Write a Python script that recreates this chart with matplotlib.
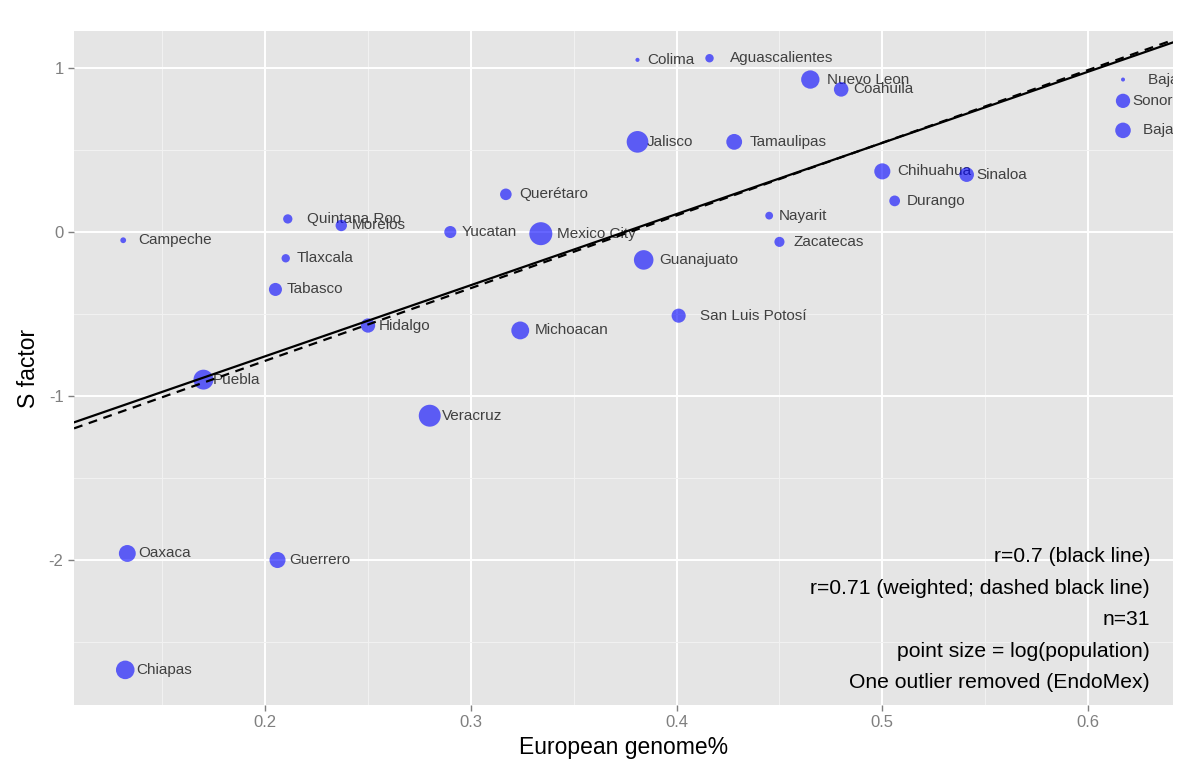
import numpy as np
import matplotlib
matplotlib.use('Agg')
from matplotlib import pyplot as plt
from matplotlib.transforms import ScaledTranslation

plt.rcParams['font.family'] = ['Liberation Sans', 'DejaVu Sans']

#--------------------------------------------------------------------------------------------
states = ['Campeche', 'Quintana Roo', 'Morelos', 'Tlaxcala', 'Tabasco', 'Hidalgo', 'Puebla',
          'Querétaro', 'Yucatan', 'Mexico City', 'Michoacan', 'Veracruz', 'Oaxaca', 'Guerrero',
          'Chiapas', 'Colima', 'Aguascalientes', 'Jalisco', 'Tamaulipas', 'Nuevo Leon', 'Coahuila',
          'Guanajuato', 'San Luis Potosí', 'Nayarit', 'Zacatecas', 'Chihuahua', 'Sinaloa',
          'Durango', 'Baja California Sur', 'Sonora', 'Baja California']
european = [0.131, 0.211, 0.237, 0.210, 0.205, 0.250, 0.170,
            0.317, 0.290, 0.334, 0.324, 0.280, 0.133, 0.206,
            0.132, 0.381, 0.416, 0.381, 0.428, 0.465, 0.480,
            0.384, 0.401, 0.445, 0.450, 0.500, 0.541,
            0.506, 0.617, 0.617, 0.617]
s_factor = [-0.05, 0.08, 0.04, -0.16, -0.35, -0.57, -0.90,
            0.23, 0.00, -0.01, -0.60, -1.12, -1.96, -2.00,
            -2.67, 1.05, 1.06, 0.55, 0.55, 0.93, 0.87,
            -0.17, -0.51, 0.10, -0.06, 0.37, 0.35,
            0.19, 0.93, 0.80, 0.62]
# population in millions
population = [0.82, 1.33, 1.78, 1.17, 2.24, 2.66, 5.78,
              1.83, 1.96, 8.85, 4.35, 7.64, 3.80, 3.39,
              4.80, 0.65, 1.18, 7.35, 3.27, 4.65, 2.75,
              5.49, 2.59, 1.08, 1.49, 3.41, 2.77,
              1.63, 0.64, 2.66, 3.16]
notes = ['r=0.7 (black line)', 'r=0.71 (weighted; dashed black line)', 'n=31',
         'point size = log(population)', 'One outlier removed (EndoMex)']

x = np.array(european)
y = np.array(s_factor)
logpop = np.log(np.array(population) * 1e6)

#--------------------------------------------------------------------------------------------
fig = plt.figure(figsize=(12, 7.73), dpi=100)
ax = fig.add_axes([0.0617, 0.088, 0.9158, 0.8719])
ax.set_facecolor('#E5E5E5')
for sp in ax.spines.values():
  sp.set_visible(False)

ax.set_xlim(0.1071, 0.6413)
ax.set_ylim(-2.884, 1.226)
ax.set_xticks([0.2, 0.3, 0.4, 0.5, 0.6])
ax.set_yticks([-2, -1, 0, 1])
ax.set_yticklabels(['-2', '-1', '0', '1'])
ax.set_xticks([0.15, 0.25, 0.35, 0.45, 0.55], minor=True)
ax.set_yticks([-2.5, -1.5, -0.5, 0.5], minor=True)
ax.grid(which='major', color='white', lw=1.4)
ax.grid(which='minor', color='#F2F2F2', lw=0.7)
ax.set_axisbelow(True)
ax.tick_params(which='major', colors='#7F7F7F', labelsize=12, length=4.5, width=1, pad=3)
ax.tick_params(which='minor', length=0)
ax.set_xlabel('European genome%', fontsize=16.5, labelpad=4)
ax.set_ylabel('S factor', fontsize=16.5, labelpad=6)

# point size ~ log(population), linear in diameter
t = (logpop - logpop.min()) / (logpop.max() - logpop.min())
diam_pt = (4 + 19 * t) * 0.72
ax.scatter(x, y, s=diam_pt**2, c='blue', alpha=0.6, edgecolors='none', zorder=3)

labels = []
for xi, yi, name in zip(x, y, states):
  labels.append(ax.text(xi, yi, name, fontsize=11, color='#404040', ha='left', va='center',
                        zorder=2, clip_on=True))

# fits: plain and weighted by log(population)
b1, a1 = np.polyfit(x, y, 1)
b2, a2 = np.polyfit(x, y, 1, w=np.sqrt(logpop))
xx = np.array(ax.get_xlim())
ax.plot(xx, a1 + b1 * xx, color='black', lw=1.6, zorder=4)
ax.plot(xx, a2 + b2 * xx, color='black', lw=1.6, ls=(0, (4, 3)), zorder=4)

for i, s in enumerate(notes):
  ax.text(0.979, 0.2196 - i * 0.0467, s, transform=ax.transAxes, ha='right', va='center',
          fontsize=15.2, color='black', zorder=5)

# hjust = -0.2 style shift of the labels
fig.canvas.draw()
r = fig.canvas.get_renderer()
for tx in labels:
  wpx = tx.get_window_extent(renderer=r).width
  tx.set_transform(ax.transData + ScaledTranslation(0.2 * wpx / fig.dpi, 0, fig.dpi_scale_trans))

plt.savefig('out.png', dpi=100)
